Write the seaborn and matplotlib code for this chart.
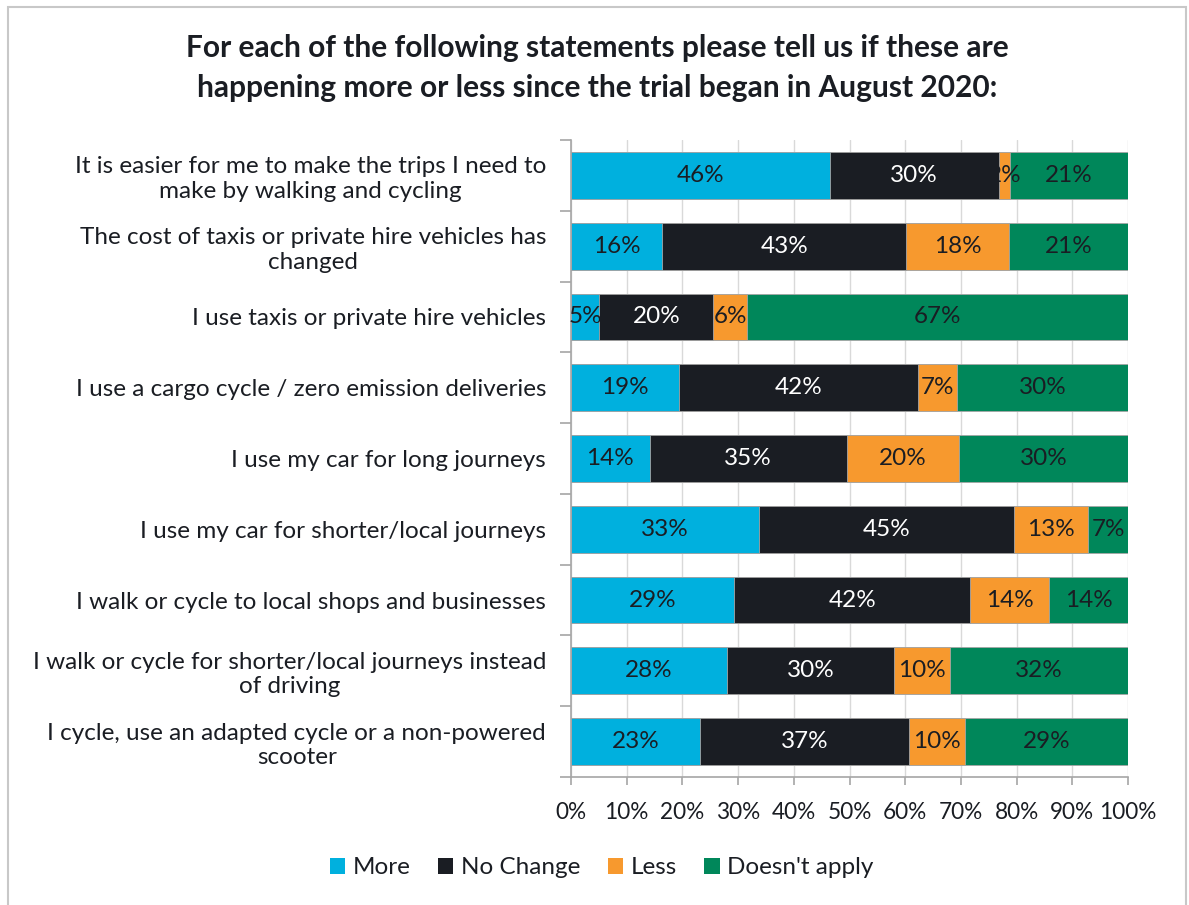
import numpy as np
import pandas as pd
import matplotlib
matplotlib.use("Agg")
import matplotlib.pyplot as plt
from matplotlib.patches import Patch, Rectangle
import seaborn as sns

# Survey statements (top to bottom) and response shares in percent
statements = [
    "It is easier for me to make the trips I need to\nmake by walking and cycling",
    "The cost of taxis or private hire vehicles has\nchanged",
    "I use taxis or private hire vehicles",
    "I use a cargo cycle / zero emission deliveries",
    "I use my car for long journeys",
    "I use my car for shorter/local journeys",
    "I walk or cycle to local shops and businesses",
    "I walk or cycle for shorter/local journeys instead\nof driving",
    "I cycle, use an adapted cycle or a non-powered\nscooter",
]
more = [46, 16, 5, 19, 14, 33, 29, 28, 23]
no_change = [30, 43, 20, 42, 35, 45, 42, 30, 37]
less = [2, 18, 6, 7, 20, 13, 14, 10, 10]
doesnt_apply = [21, 21, 67, 30, 30, 7, 14, 32, 29]

series_names = ["More", "No Change", "Less", "Doesn't apply"]
series_colors = ["#00B0DE", "#1A1D23", "#F7992E", "#00875A"]
label_colors = ["#1A1D23", "#FFFFFF", "#1A1D23", "#1A1D23"]

sns.set_style("white")
plt.rcParams["font.family"] = ["Lato", "DejaVu Sans"]
TEXT = "#1A1D23"

values = np.array([more, no_change, less, doesnt_apply], dtype=float)
shares = values / values.sum(axis=0) * 100.0  # 100% stacked
cum = np.cumsum(shares, axis=0)
starts = cum - shares

df = pd.DataFrame({"statement": statements})
for i, name in enumerate(series_names):
    df[name + "_end"] = cum[i]

fig = plt.figure(figsize=(11.89, 9.05), dpi=100)
ax = fig.add_axes([571 / 1189, 1 - 777 / 905, (1128 - 571) / 1189, (777 - 140) / 905])

# draw cumulative bars from the outermost segment inwards
for i in range(len(series_names) - 1, -1, -1):
    sns.barplot(data=df, x=series_names[i] + "_end", y="statement", orient="h",
                color=series_colors[i], saturation=1, width=0.66,
                edgecolor="#A6A6A6", linewidth=0.6, ax=ax, zorder=2)

# value labels centred in each segment
for i in range(len(series_names)):
    for j in range(len(statements)):
        ax.text(starts[i, j] + shares[i, j] / 2, j, f"{int(values[i, j])}%",
                ha="center", va="center", fontsize=17.5, color=label_colors[i], zorder=3)

ax.set_xlim(0, 100)
ax.set_ylim(len(statements) - 0.5, -0.5)
ax.set_xticks(np.arange(0, 101, 10))
ax.set_xticklabels([f"{v}%" for v in range(0, 101, 10)], fontsize=16.3, color=TEXT)
ax.xaxis.grid(True, color="#D9D9D9", linewidth=1, zorder=0)
ax.set_axisbelow(True)
ax.set_xlabel("")
ax.set_ylabel("")

ax.set_yticks(range(len(statements)))
ax.set_yticklabels(statements, fontsize=17.5, color=TEXT, multialignment="center")
ax.set_yticks(np.arange(-0.5, len(statements), 1), minor=True)
ax.tick_params(axis="y", which="major", length=0, pad=18)
ax.tick_params(axis="y", which="minor", length=8, color="#A6A6A6", width=1.2, left=True)
ax.tick_params(axis="x", length=6, color="#A6A6A6", width=1.2, bottom=True, pad=12)

for side in ["top", "right"]:
    ax.spines[side].set_visible(False)
for side in ["left", "bottom"]:
    ax.spines[side].set_color("#A6A6A6")
    ax.spines[side].set_linewidth(1.2)

fig.text(0.502, 0.925,
         "For each of the following statements please tell us if these are\n"
         "happening more or less since the trial began in August 2020:",
         ha="center", va="center", fontsize=21.5, fontweight="bold", color=TEXT,
         linespacing=1.5)

handles = [Patch(facecolor=c, edgecolor="none") for c in series_colors]
fig.legend(handles, series_names, loc="center", bbox_to_anchor=(0.506, 0.041),
           ncol=4, frameon=False, fontsize=17.5, handlelength=0.62, handleheight=0.62,
           handletextpad=0.3, columnspacing=1.15, labelcolor=TEXT)

fig.patches.append(Rectangle((8 / 1189, -0.02), (1186 - 8) / 1189, 1.02 - 7 / 905,
                             transform=fig.transFigure, fill=False,
                             edgecolor="#C8C8C8", linewidth=1.5))

fig.savefig("out.png", dpi=100)
